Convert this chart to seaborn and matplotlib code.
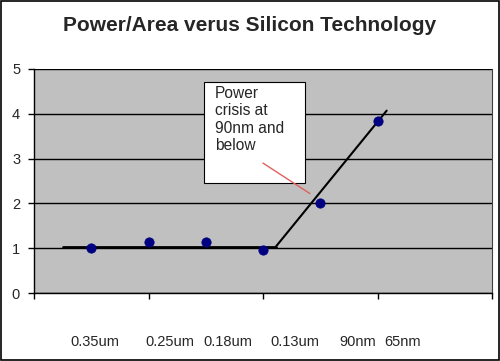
import matplotlib
matplotlib.use("Agg")
import matplotlib.pyplot as plt
import seaborn as sns
import pandas as pd
from matplotlib.patches import Rectangle

# measured points (x in chart units, Excel XY scatter)
point_x = [0.5, 1.0, 1.5, 2.0, 2.5, 3.0]
power_area = [1.0, 1.13, 1.13, 0.97, 2.0, 3.85]

# hand-drawn trend segments
trend_x = [0.25, 2.11, 3.08]
trend_y = [1.03, 1.03, 4.07]

tech_labels = ["0.35um", "0.25um", "0.18um", "0.13um", "90nm", "65nm"]
label_pos = [0.53, 1.19, 1.69, 2.28, 2.83, 3.22]

sns.set_style("white")
plt.rcParams["font.family"] = ["Liberation Sans", "DejaVu Sans"]

fig = plt.figure(figsize=(5, 3.61), dpi=100)
ax = fig.add_axes([0.068, 0.188, 0.916, 0.621])
ax.set_facecolor("#C0C0C0")

df = pd.DataFrame({"x": point_x, "y": power_area})
sns.lineplot(x=trend_x[:2], y=trend_y[:2], ax=ax, color="black", lw=2, sort=False)
sns.lineplot(x=trend_x[1:], y=trend_y[1:], ax=ax, color="black", lw=1.5, sort=False)
sns.scatterplot(data=df, x="x", y="y", ax=ax, color="#000080", s=45,
                edgecolor="#000080", zorder=5)

ax.set_xlim(0, 4)
ax.set_ylim(0, 5)
ax.set_xticks(range(5))
ax.set_xticklabels([])
ax.set_yticks(range(6))
ax.yaxis.grid(True, color="black", lw=1)
ax.set_axisbelow(True)
ax.tick_params(axis="both", direction="out", length=4, width=1, color="black",
               left=True, bottom=True, labelsize=10.5, pad=6)
ax.set_xlabel("")
ax.set_ylabel("")
for side in ["left", "bottom"]:
    ax.spines[side].set_color("black")
    ax.spines[side].set_linewidth(1)
ax.spines["right"].set_color("#404040")
ax.spines["top"].set_visible(False)

for lab, pos in zip(tech_labels, label_pos):
    ax.text(pos, -0.22, lab, transform=ax.get_xaxis_transform(),
            ha="center", va="center", fontsize=10.5)

# callout box with pointer
ax.add_patch(Rectangle((1.485, 2.455), 0.882, 2.255, fc="white", ec="black",
                       lw=0.8, zorder=6))
ax.text(1.58, 4.62, "Power\ncrisis at\n90nm and\nbelow", fontsize=11.2, va="top",
        ha="left", linespacing=1.2, zorder=7)
ax.plot([2.0, 2.41], [2.9, 2.22], color="#E06060", lw=1, zorder=7)

fig.suptitle("Power/Area verus Silicon Technology", fontsize=15,
             fontweight="bold", y=0.955)
fig.add_artist(Rectangle((0.002, 0.003), 0.996, 0.994, transform=fig.transFigure,
                         fill=False, ec="black", lw=1.2))

fig.savefig("out.png", dpi=100)
